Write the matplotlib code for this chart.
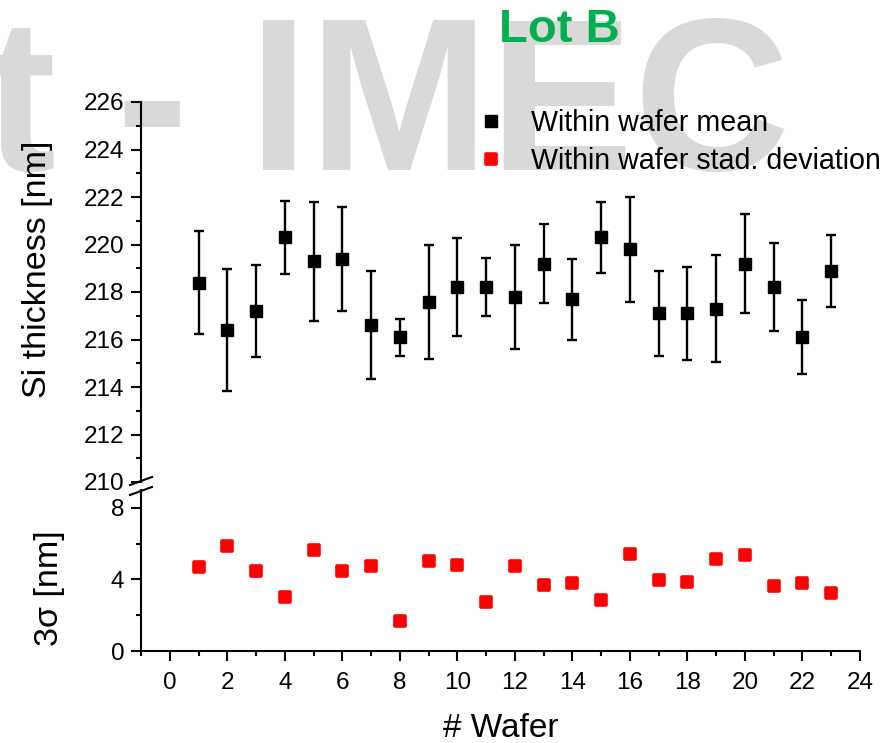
"""Lot B: within-wafer Si thickness mean (with spread) and 3-sigma per wafer."""

import matplotlib
matplotlib.use("Agg")
import matplotlib.pyplot as plt
from matplotlib.lines import Line2D
from matplotlib.markers import MarkerStyle
from matplotlib.ticker import MultipleLocator

plt.rcParams["font.family"] = ["Liberation Sans", "DejaVu Sans"]

wafer = list(range(1, 24))
mean_nm = [218.4, 216.4, 217.2, 220.3, 219.3, 219.4, 216.6, 216.1, 217.6, 218.2,
           218.2, 217.8, 219.2, 217.7, 220.3, 219.8, 217.1, 217.1, 217.3, 219.2,
           218.2, 216.1, 218.9]
mean_err = [2.15, 2.55, 1.95, 1.55, 2.5, 2.2, 2.27, 0.78, 2.4, 2.07,
            1.22, 2.2, 1.67, 1.7, 1.48, 2.22, 1.8, 1.95, 2.25, 2.1,
            1.85, 1.55, 1.52]
sigma3_nm = [4.70, 5.86, 4.48, 3.04, 5.65, 4.48, 4.76, 1.66, 5.03, 4.78,
             2.76, 4.74, 3.67, 3.78, 2.83, 5.45, 3.95, 3.86, 5.17, 5.37,
             3.64, 3.80, 3.26]

W, H = 893, 743
fig = plt.figure(figsize=(W / 100, H / 100), dpi=100)


def px_box(left, top, right, bottom):
    return [left / W, 1 - bottom / H, (right - left) / W, (bottom - top) / H]


ax_top = fig.add_axes(px_box(141, 102, 860, 482))
ax_bot = fig.add_axes(px_box(141, 490, 860, 651))

# watermark behind everything
fig.text(790 / W, 1 - 170 / H, "t - IMEC", ha="right", va="baseline",
         fontsize=156, fontweight="bold", color="#d9d9d9", zorder=-1)
fig.text(559 / W, 1 - 42 / H, "Lot B", ha="center", va="baseline",
         fontsize=34, fontweight="bold", color="#00b050", zorder=5)

rounded_sq = MarkerStyle("s", joinstyle="round")

ax_top.errorbar(wafer, mean_nm, yerr=mean_err, fmt="s", color="black",
                ms=8.2, elinewidth=1.7, capsize=3.6, capthick=1.7)
ax_bot.plot(wafer, sigma3_nm, ls="none", marker=rounded_sq, ms=6.5,
            mfc="red", mec="red", mew=2.6)

for ax in (ax_top, ax_bot):
    ax.patch.set_visible(False)
    ax.set_xlim(-1, 24)
    ax.spines["top"].set_visible(False)
    ax.spines["right"].set_visible(False)
    ax.spines["left"].set_linewidth(1.5)
    ax.spines["bottom"].set_linewidth(1.5)
    ax.tick_params(which="major", direction="out", length=7, width=1.5,
                   labelsize=17.5, pad=5)
    ax.tick_params(which="minor", direction="out", length=3.5, width=1.5)

ax_top.set_ylim(210, 226)
ax_top.yaxis.set_major_locator(MultipleLocator(2))
ax_top.yaxis.set_minor_locator(MultipleLocator(1))
ax_top.spines["bottom"].set_visible(False)
ax_top.tick_params(axis="x", which="both", bottom=False, labelbottom=False)

ax_bot.set_ylim(0, 9)
ax_bot.yaxis.set_major_locator(MultipleLocator(4))
ax_bot.yaxis.set_minor_locator(MultipleLocator(2))
ax_bot.xaxis.set_major_locator(MultipleLocator(2))
ax_bot.xaxis.set_minor_locator(MultipleLocator(1))
ax_bot.tick_params(axis="x", which="major", pad=8)

ax_top.set_ylabel("Si thickness [nm]", fontsize=24.5)
ax_top.yaxis.set_label_coords(-0.122, 0.56)
ax_bot.set_ylabel("3σ [nm]", fontsize=24.5)
ax_bot.yaxis.set_label_coords(-0.106, 0.39)
ax_bot.set_xlabel("# Wafer", fontsize=24, labelpad=14)

# axis break marks
for y0 in (485, 495):
    fig.add_artist(Line2D([130 / W, 152 / W], [1 - y0 / H, 1 - (y0 - 8) / H],
                          color="black", lw=1.5))

handles = [
    Line2D([], [], ls="none", marker="s", ms=8.2, color="black"),
    Line2D([], [], ls="none", marker=rounded_sq, ms=6.5, mfc="red", mec="red", mew=2.6),
]
ax_top.legend(handles, ["Within wafer mean", "Within wafer stad. deviation"],
              loc="center left", bbox_to_anchor=(477 / W, 1 - 142 / H),
              bbox_transform=fig.transFigure, frameon=False, fontsize=20.6,
              borderpad=0, borderaxespad=0, handlelength=1.0,
              handletextpad=0.9, labelspacing=0.35)

fig.savefig("out.png", dpi=100)
